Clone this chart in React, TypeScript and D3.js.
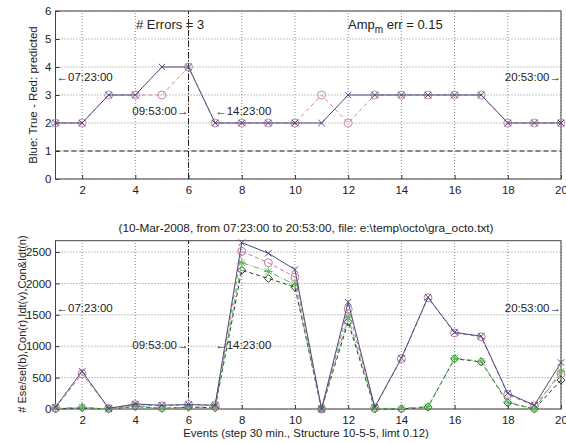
import React, { useEffect, useRef } from "react";
import * as d3 from "d3";

// events (30 min steps)
const events = [1, 2, 3, 4, 5, 6, 7, 8, 9, 10, 11, 12, 13, 14, 15, 16, 17, 18, 19, 20];
// top: true vs predicted class
const trueClass = [2, 2, 3, 3, 4, 4, 2, 2, 2, 2, 2, 3, 3, 3, 3, 3, 3, 2, 2, 2];
const predClass = [2, 2, 3, 3, 3, 4, 2, 2, 2, 2, 3, 2, 3, 3, 3, 3, 3, 2, 2, 2];
// bottom: Ese/sel(b), Con(r), Idt(v), Con&Idt(n)
const ese = [30, 600, 10, 80, 60, 70, 60, 2650, 2480, 2220, 0, 1700, 30, 810, 1780, 1220, 1160, 250, 60, 740];
const con = [20, 560, 10, 70, 50, 70, 60, 2510, 2330, 2100, 0, 1590, 20, 800, 1770, 1210, 1150, 230, 50, 560];
const idt = [10, 30, 0, 50, 10, 30, 30, 2330, 2190, 1980, 0, 1460, 10, 10, 40, 810, 760, 110, 0, 600];
const conIdt = [0, 20, 0, 40, 10, 30, 20, 2210, 2080, 1940, 0, 1390, 0, 0, 30, 800, 750, 100, 0, 460];

const xTicks = [2, 4, 6, 8, 10, 12, 14, 16, 18, 20];
const topTicks = [0, 1, 2, 3, 4, 5, 6];
const botTicks = [0, 500, 1000, 1500, 2000, 2500];

const FONT = "'Liberation Sans', Arial, sans-serif";

function App() {
  const ref = useRef<SVGSVGElement>(null);

  useEffect(() => {
    const svg = d3.select(ref.current);
    svg.selectAll("*").remove();

    const x = d3.scaleLinear().domain([1, 20]).range([55.5, 561]);
    const yTop = d3.scaleLinear().domain([0, 6]).range([179, 11]);
    const yBot = d3.scaleLinear().domain([0, 2680]).range([409, 240.7]);

    function frame(y: any, yt: number[]) {
      const g = svg.append("g");
      const [y0, y1] = y.range();
      // grid
      g.selectAll(".gx").data(xTicks).enter().append("line")
        .attr("x1", (d: number) => x(d)).attr("x2", (d: number) => x(d))
        .attr("y1", y0).attr("y2", y1)
        .attr("stroke", "#888").attr("stroke-dasharray", "1,2");
      g.selectAll(".gy").data(yt).enter().append("line")
        .attr("x1", x(1)).attr("x2", x(20))
        .attr("y1", (d: number) => y(d)).attr("y2", (d: number) => y(d))
        .attr("stroke", "#888").attr("stroke-dasharray", "1,2");
      // axes
      const ax = g.append("g").attr("transform", `translate(0,${y0})`)
        .call(d3.axisBottom(x).tickValues(xTicks).tickSizeInner(-4).tickSizeOuter(0).tickPadding(7));
      const ay = g.append("g").attr("transform", `translate(${x(1)},0)`)
        .call(d3.axisLeft(y).tickValues(yt).tickSizeInner(-4).tickSizeOuter(0).tickPadding(4).tickFormat(d3.format("d")));
      [ax, ay].forEach(a => {
        a.select(".domain").remove();
        a.selectAll("line").attr("stroke", "#333");
        a.selectAll("text").attr("font-family", FONT).attr("font-size", 11.5).attr("fill", "#222");
      });
      g.append("rect").attr("x", x(1)).attr("y", y1)
        .attr("width", x(20) - x(1)).attr("height", y0 - y1)
        .attr("fill", "none").attr("stroke", "#444");
      // vertical dash-dot at event 6
      g.append("line").attr("x1", x(6)).attr("x2", x(6)).attr("y1", y0).attr("y2", y1)
        .attr("stroke", "#222").attr("stroke-dasharray", "6,2,1,2");
      return g;
    }

    function series(g: any, y: any, vals: number[], color: string, dash: string | null, marker: string) {
      const line = d3.line<number>().x((d, i) => x(events[i])).y(d => y(d));
      g.append("path").datum(vals).attr("d", line).attr("fill", "none")
        .attr("stroke", color).attr("stroke-width", 1)
        .attr("stroke-dasharray", dash);
      const m = g.selectAll(null).data(vals).enter().append("g")
        .attr("transform", (d: number, i: number) => `translate(${x(events[i])},${y(d)})`);
      const s = 3.2;
      if (marker === "x" || marker === "*") {
        m.append("path").attr("d", `M${-s},${-s}L${s},${s}M${-s},${s}L${s},${-s}`)
          .attr("stroke", color).attr("fill", "none");
      }
      if (marker === "*") {
        m.append("path").attr("d", `M${-s - 1},0L${s + 1},0M0,${-s - 1}L0,${s + 1}`)
          .attr("stroke", color).attr("fill", "none");
      }
      if (marker === "o") {
        m.append("circle").attr("r", 4).attr("fill", "none").attr("stroke", color);
      }
      if (marker === "d") {
        m.append("path").attr("d", `M0,${-4}L4,0L0,4L-4,0Z`).attr("fill", "none").attr("stroke", color);
      }
    }

    function label(g: any, px: number, py: number, txt: string, anchor = "start", size = 11.5) {
      g.append("text").attr("x", px).attr("y", py).attr("text-anchor", anchor)
        .attr("dominant-baseline", "middle")
        .attr("font-family", FONT).attr("font-size", size).attr("fill", "#222").text(txt);
    }

    // ---- top plot
    const gt = frame(yTop, topTicks);
    gt.append("line").attr("x1", x(1)).attr("x2", x(20)).attr("y1", yTop(1)).attr("y2", yTop(1))
      .attr("stroke", "#222").attr("stroke-dasharray", "5,3");
    series(gt, yTop, predClass, "#c98aa8", "4,3", "o");
    series(gt, yTop, trueClass, "#4a4a7e", null, "x");
    label(gt, x(1) + 1, yTop(3.6), "\u219007:23:00");
    label(gt, x(6), yTop(2.4), "09:53:00\u2192", "end");
    label(gt, x(7), yTop(2.4), "\u219014:23:00");
    label(gt, x(20), yTop(3.6), "20:53:00\u2192", "end");
    label(gt, 136, 26, "# Errors = 3", "start", 13);
    const amp = gt.append("text").attr("x", 348).attr("y", 26).attr("dominant-baseline", "middle")
      .attr("font-family", FONT).attr("font-size", 13).attr("fill", "#222");
    amp.append("tspan").text("Amp");
    amp.append("tspan").attr("dy", 4).attr("font-size", 10).text("m");
    amp.append("tspan").attr("dy", -4).text(" err = 0.15");
    svg.append("text").attr("transform", `translate(37,95) rotate(-90)`).attr("text-anchor", "middle")
      .attr("font-family", FONT).attr("font-size", 11.5).attr("fill", "#222")
      .text("Blue: True - Red: predicted");

    // ---- bottom plot
    const gb = frame(yBot, botTicks);
    series(gb, yBot, conIdt, "#333", "4,3", "d");
    series(gb, yBot, idt, "#55c055", "6,2,1,2", "*");
    series(gb, yBot, con, "#c07898", "4,3", "o");
    series(gb, yBot, ese, "#4a4a7e", null, "x");
    label(gb, x(1) + 1, yBot(1590), "\u219007:23:00");
    label(gb, x(6), yBot(1000), "09:53:00\u2192", "end");
    label(gb, x(7), yBot(1000), "\u219014:23:00");
    label(gb, x(20), yBot(1590), "20:53:00\u2192", "end");
    svg.append("text").attr("x", 306).attr("y", 232).attr("text-anchor", "middle")
      .attr("font-family", FONT).attr("font-size", 11.8).attr("fill", "#222")
      .text("(10-Mar-2008, from 07:23:00 to 20:53:00, file: e:\\temp\\octo\\gra_octo.txt)");
    svg.append("text").attr("x", 306).attr("y", 437).attr("text-anchor", "middle")
      .attr("font-family", FONT).attr("font-size", 11.4).attr("fill", "#222")
      .text("Events (step 30 min., Structure 10-5-5, limt 0.12)");
    svg.append("text").attr("transform", `translate(26,324) rotate(-90)`).attr("text-anchor", "middle")
      .attr("font-family", FONT).attr("font-size", 11).attr("fill", "#222")
      .text("# Ese/sel(b),Con(r),Idt(v),Con&Idt(n)");
  }, []);

  return (
    <svg ref={ref} width={566} height={443}
      style={{ position: "absolute", left: 0, top: 0, background: "#fff" }} />
  );
}

export default App;
